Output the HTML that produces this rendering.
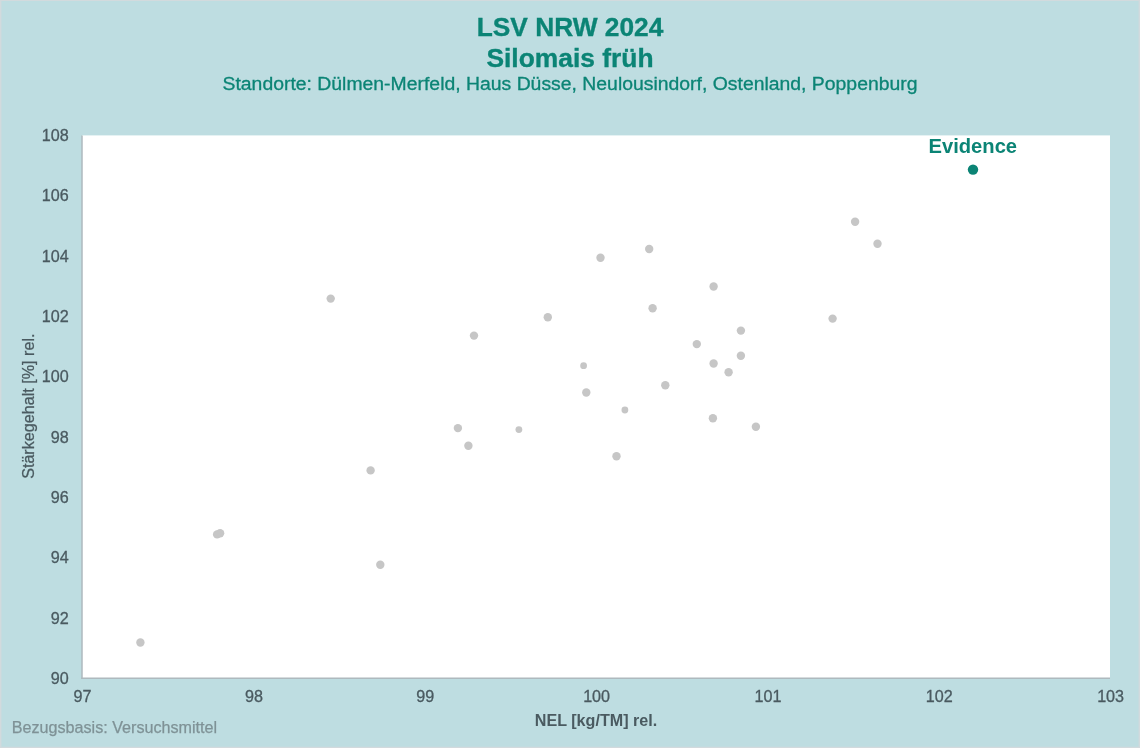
<!DOCTYPE html>
<html lang="de"><head><meta charset="utf-8"><title>LSV NRW 2024 Silomais früh</title>
<style>
html,body{margin:0;padding:0;background:#BEDDE1;}
body{width:1140px;height:748px;overflow:hidden;}
svg{display:block;font-family:"Liberation Sans",Arial,Helvetica,sans-serif;}
</style></head><body>
<svg width="1140" height="748" viewBox="0 0 1140 748">
<rect x="0" y="0" width="1140" height="748" fill="#BEDDE1"/>
<rect x="0" y="0" width="1140" height="1" fill="#D2DADD"/>
<rect x="0" y="0" width="1.4" height="748" fill="#D2DADD"/>
<rect x="1138.6" y="0" width="1.4" height="748" fill="#D2DADD"/>
<rect x="0" y="746.7" width="1140" height="1.3" fill="#D2DADD"/>
<rect x="82" y="135.4" width="1028" height="542.9" fill="#FFFFFF"/>
<line x1="82" y1="135.4" x2="82" y2="679.05" stroke="#AEB9BE" stroke-width="1.5"/>
<line x1="81.25" y1="678.3" x2="1110" y2="678.3" stroke="#AEB9BE" stroke-width="1.5"/>
<g fill="#0B8475" text-anchor="middle">
<text x="570" y="36.1" font-size="26.3" font-weight="bold" stroke="#0B8475" stroke-width="0.35">LSV NRW 2024</text>
<text x="570" y="66.9" font-size="26.4" font-weight="bold" stroke="#0B8475" stroke-width="0.35">Silomais früh</text>
<text x="570" y="90.2" font-size="18.7" textLength="695" lengthAdjust="spacingAndGlyphs" stroke="#0B8475" stroke-width="0.3">Standorte: Dülmen-Merfeld, Haus Düsse, Neulousindorf, Ostenland, Poppenburg</text>
</g>
<g fill="#4A5A60" stroke="#4A5A60" stroke-width="0.3" font-size="16.15" text-anchor="end">
<text x="68.8" y="141.0">108</text>
<text x="68.8" y="201.3">106</text>
<text x="68.8" y="261.6">104</text>
<text x="68.8" y="322.0">102</text>
<text x="68.8" y="382.3">100</text>
<text x="68.8" y="442.6">98</text>
<text x="68.8" y="502.9">96</text>
<text x="68.8" y="563.3">94</text>
<text x="68.8" y="623.6">92</text>
<text x="68.8" y="683.9">90</text>
</g>
<g fill="#4A5A60" stroke="#4A5A60" stroke-width="0.3" font-size="16.15" text-anchor="middle">
<text x="82.6" y="702.3">97</text>
<text x="253.9" y="702.3">98</text>
<text x="425.3" y="702.3">99</text>
<text x="596.6" y="702.3">100</text>
<text x="767.9" y="702.3">101</text>
<text x="939.3" y="702.3">102</text>
<text x="1110.6" y="702.3">103</text>
</g>
<text x="596" y="725.9" font-size="16.15" font-weight="bold" fill="#4A5A60" text-anchor="middle">NEL [kg/TM] rel.</text>
<text transform="translate(34.3 406.2) rotate(-90)" font-size="16.15" fill="#4A5A60" stroke="#4A5A60" stroke-width="0.25" text-anchor="middle">Stärkegehalt [%] rel.</text>
<text x="11.7" y="732.6" font-size="16.15" fill="#7F9296" stroke="#7F9296" stroke-width="0.25">Bezugsbasis: Versuchsmittel</text>
<g fill="#C6C6C6">
<circle cx="140.4" cy="642.5" r="4.2"/>
<circle cx="217.1" cy="534.4" r="4.2"/>
<circle cx="220.1" cy="533.2" r="4.2"/>
<circle cx="370.6" cy="470.4" r="4.2"/>
<circle cx="380.3" cy="564.7" r="4.2"/>
<circle cx="330.7" cy="298.6" r="4.2"/>
<circle cx="474" cy="335.6" r="4.2"/>
<circle cx="457.9" cy="428.1" r="4.2"/>
<circle cx="468.4" cy="445.7" r="4.2"/>
<circle cx="518.9" cy="429.6" r="3.4"/>
<circle cx="547.8" cy="317.3" r="4.2"/>
<circle cx="583.6" cy="365.7" r="3.4"/>
<circle cx="586.3" cy="392.5" r="4.2"/>
<circle cx="600.5" cy="257.7" r="4.2"/>
<circle cx="616.5" cy="456.3" r="4.2"/>
<circle cx="649.2" cy="249.0" r="4.2"/>
<circle cx="652.6" cy="308.2" r="4.2"/>
<circle cx="713.6" cy="286.5" r="4.2"/>
<circle cx="696.8" cy="344.1" r="4.2"/>
<circle cx="740.9" cy="330.6" r="4.2"/>
<circle cx="740.9" cy="355.7" r="4.2"/>
<circle cx="713.6" cy="363.5" r="4.2"/>
<circle cx="728.6" cy="372.2" r="4.2"/>
<circle cx="665.3" cy="385.3" r="4.2"/>
<circle cx="624.9" cy="410.0" r="3.4"/>
<circle cx="712.9" cy="418.2" r="4.2"/>
<circle cx="755.9" cy="426.8" r="4.2"/>
<circle cx="832.6" cy="318.6" r="4.2"/>
<circle cx="855.1" cy="221.7" r="4.2"/>
<circle cx="877.5" cy="243.8" r="4.2"/>
</g>
<circle cx="973" cy="169.6" r="5.2" fill="#0B8475"/>
<text x="972.8" y="152.7" font-size="19.8" font-weight="bold" fill="#0B8475" text-anchor="middle" textLength="88.6" lengthAdjust="spacingAndGlyphs">Evidence</text>
</svg>
</body></html>
